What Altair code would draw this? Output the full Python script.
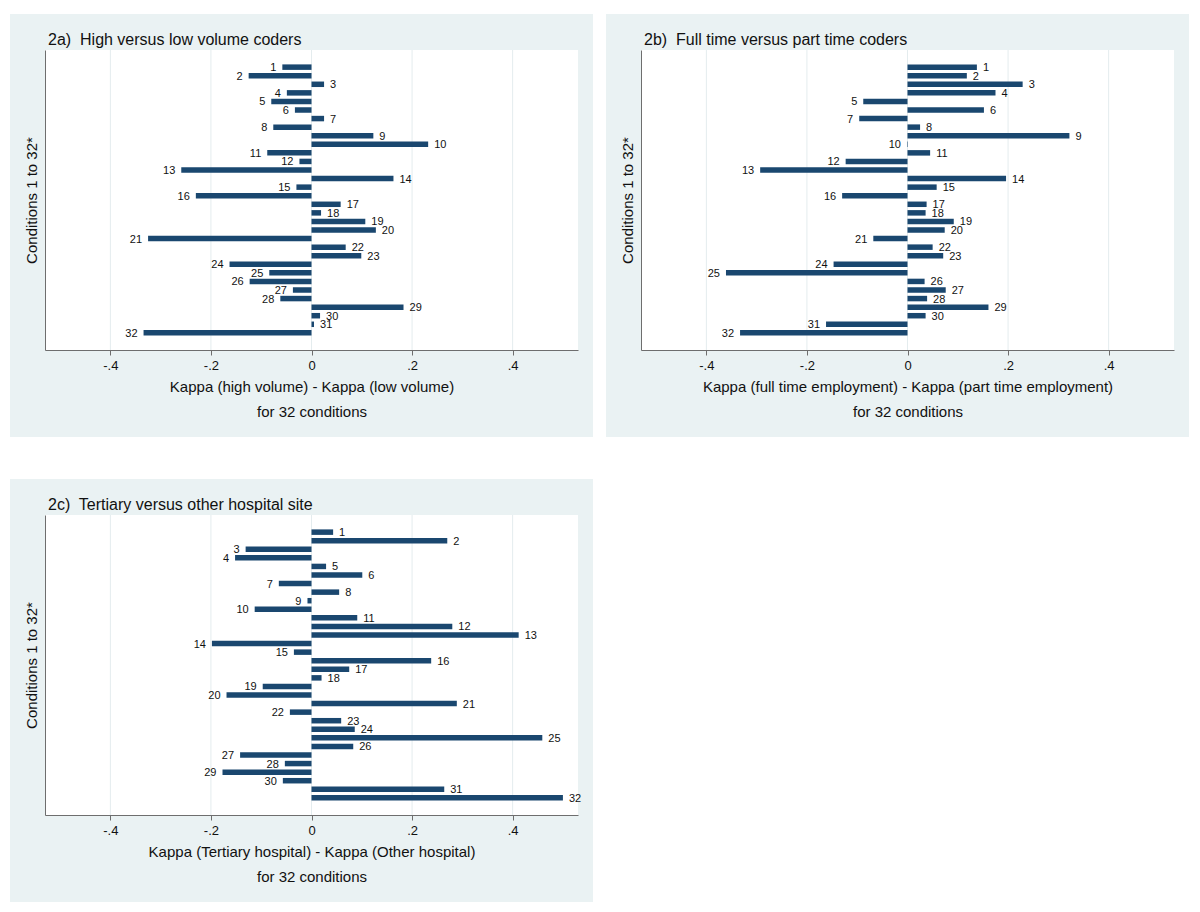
import altair as alt
import pandas as pd

conditions = [1, 2, 3, 4, 5, 6, 7, 8, 9, 10, 11, 12, 13, 14, 15, 16,
              17, 18, 19, 20, 21, 22, 23, 24, 25, 26, 27, 28, 29, 30, 31, 32]

kappa_volume = [-0.058, -0.125, 0.025, -0.049, -0.080, -0.033, 0.025, -0.076,
                0.123, 0.232, -0.088, -0.024, -0.259, 0.163, -0.030, -0.230,
                0.058, 0.019, 0.107, 0.128, -0.325, 0.068, 0.099, -0.163,
                -0.084, -0.123, -0.037, -0.062, 0.183, 0.017, 0.005, -0.334]

kappa_fulltime = [0.138, 0.118, 0.229, 0.175, -0.088, 0.152, -0.096, 0.025,
                  0.322, -0.001, 0.045, -0.123, -0.293, 0.196, 0.058, -0.130,
                  0.038, 0.036, 0.092, 0.074, -0.068, 0.050, 0.071, -0.147,
                  -0.361, 0.034, 0.076, 0.039, 0.161, 0.036, -0.162, -0.333]

kappa_tertiary = [0.043, 0.270, -0.131, -0.152, 0.029, 0.101, -0.065, 0.055,
                  -0.008, -0.113, 0.091, 0.280, 0.412, -0.198, -0.035, 0.238,
                  0.075, 0.020, -0.097, -0.169, 0.289, -0.043, 0.059, 0.086,
                  0.459, 0.083, -0.142, -0.053, -0.177, -0.057, 0.264, 0.500]

panel_titles = ["2a)\u00a0 High versus low volume coders",
                "2b)\u00a0 Full time versus part time coders",
                "2c)\u00a0 Tertiary versus other hospital site"]

x_titles = [["Kappa (high volume) - Kappa (low volume)", "for 32 conditions"],
            ["Kappa (full time employment) - Kappa (part time employment)", "for 32 conditions"],
            ["Kappa (Tertiary hospital) - Kappa (Other hospital)", "for 32 conditions"]]

y_title = "Conditions 1 to 32*"
tick_values = [-0.4, -0.2, 0, 0.2, 0.4]

W, H = 533, 300
BG = "#eaf2f3"
NAVY = "#1a476f"
AX = "#6e6e6e"
GRID = "#e4ecee"
TXT = "#111111"
FONT = "Liberation Sans"


def panel(values, title, xtitle):
    df = pd.DataFrame({"cond": conditions, "kappa": values})
    xscale = alt.Scale(domain=[-0.53, 0.53], nice=False, zero=False, padding=0)
    yscale = alt.Scale(domain=[-1, 34], reverse=True, nice=False, zero=False,
                       padding=0)
    xaxis = alt.Axis(values=tick_values,
                     labelExpr="(datum.value < 0 ? '-' : '') + "
                               "replace(format(abs(datum.value), '.1~f'), '0.', '.')",
                     grid=False, domainColor=AX, tickColor=AX, tickSize=5,
                     labelFontSize=13, labelFont=FONT, labelColor=TXT,
                     labelPadding=4, labelFlush=False,
                     title=xtitle, titleFontSize=15, titleFont=FONT,
                     titleFontWeight="normal", titleColor=TXT,
                     titleLineHeight=25, titlePadding=7, zindex=1)
    yaxis = alt.Axis(ticks=False, labels=False, grid=False, domainColor=AX,
                     title=y_title, titleFontSize=15, titleFont=FONT,
                     titleFontWeight="normal", titleColor=TXT,
                     titlePadding=6, zindex=1)
    one = pd.DataFrame({"k": [0]})
    bg = alt.Chart(one).mark_rect(fill=BG).encode(
        x=alt.value(-35), x2=alt.value(W + 15),
        y=alt.value(-36), y2=alt.value(H + 87))
    plotbg = alt.Chart(one).mark_rect(fill="white").encode(
        x=alt.value(0), x2=alt.value(W), y=alt.value(0), y2=alt.value(H))
    grid = alt.Chart(pd.DataFrame({"t": tick_values})).mark_rule(
        color=GRID, strokeWidth=1).encode(
        x=alt.X("t:Q", scale=xscale, axis=xaxis),
        y=alt.value(0), y2=alt.value(H))
    base = alt.Chart(df).transform_calculate(zero="0")
    bars = base.mark_bar(color=NAVY, size=5.5, orient="horizontal").encode(
        x=alt.X("kappa:Q", scale=xscale, axis=xaxis),
        x2="zero:Q",
        y=alt.Y("cond:Q", scale=yscale, axis=yaxis))
    lab_pos = base.transform_filter("datum.kappa >= 0").mark_text(
        align="left", baseline="middle", dx=6, dy=1, fontSize=11,
        font=FONT, color=TXT).encode(
        x=alt.X("kappa:Q", scale=xscale, axis=xaxis),
        y=alt.Y("cond:Q", scale=yscale, axis=yaxis),
        text="cond:Q")
    lab_neg = base.transform_filter("datum.kappa < 0").mark_text(
        align="right", baseline="middle", dx=-6, dy=1, fontSize=11,
        font=FONT, color=TXT).encode(
        x=alt.X("kappa:Q", scale=xscale, axis=xaxis),
        y=alt.Y("cond:Q", scale=yscale, axis=yaxis),
        text="cond:Q")
    ttl = alt.Chart(pd.DataFrame({"title": [title]})).mark_text(
        align="left", baseline="alphabetic", fontSize=16, font=FONT,
        color=TXT).encode(x=alt.value(3), y=alt.value(-5), text="title:N")
    return alt.layer(bg, plotbg, grid, bars, lab_pos, lab_neg, ttl).properties(
        width=W, height=H)


pa = panel(kappa_volume, panel_titles[0], x_titles[0])
pb = panel(kappa_fulltime, panel_titles[1], x_titles[1])
pc = panel(kappa_tertiary, panel_titles[2], x_titles[2])

top = alt.hconcat(pa, pb, spacing=13)
chart = alt.vconcat(top, pc, spacing=42).properties(
    padding={"left": 2, "top": 6, "right": 0, "bottom": 0},
    background="white"
).configure_view(stroke=None)

chart.save("out.html", embed_options={"renderer": "svg", "actions": False})
